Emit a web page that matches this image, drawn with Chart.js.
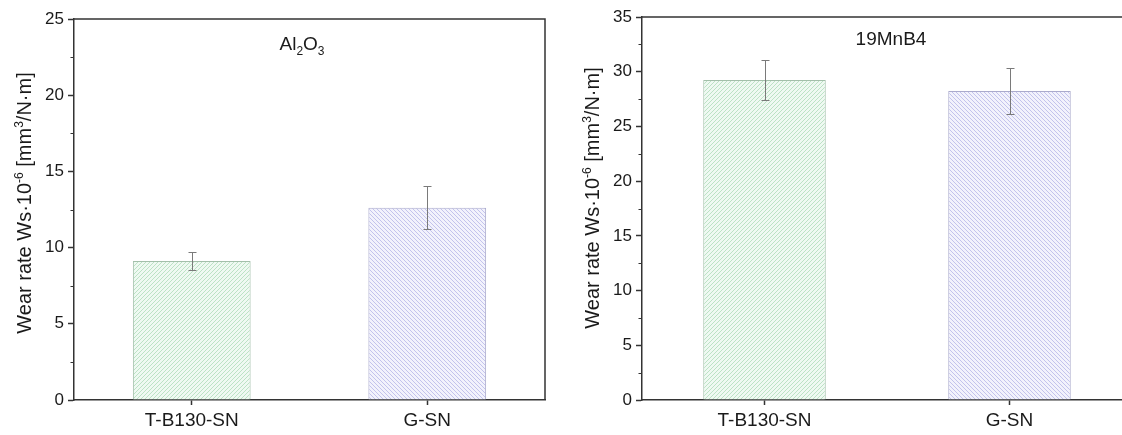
<!DOCTYPE html>
<html><head><meta charset="utf-8">
<script src="https://cdn.jsdelivr.net/npm/chart.js@4.4.1/dist/chart.umd.min.js"></script>
<style>
html,body{margin:0;padding:0;background:#fff;width:1122px;height:435px;overflow:hidden;position:relative}
#c1{position:absolute;left:0;top:0}
#c2{position:absolute;left:560px;top:0}
</style></head><body>
<canvas id="c1" width="560" height="435"></canvas>
<canvas id="c2" width="590" height="435"></canvas>
<script>
// ---- data ----
const categories = ['T-B130-SN', 'G-SN'];
const al2o3Values = [9.12, 12.62];
const al2o3Errors = [0.58, 1.40];
const mnb4Values = [29.25, 28.24];
const mnb4Errors = [1.84, 2.14];
const al2o3TickValues = [0, 5, 10, 15, 20, 25];
const mnb4TickValues = [0, 5, 10, 15, 20, 25, 30, 35];
const al2o3Title = [{t:'Al'}, {t:'2', sub:true}, {t:'O'}, {t:'3', sub:true}];
const mnb4Title = [{t:'19MnB4'}];
const yTitle = [{t:'Wear rate Ws·10'}, {t:'-6', sup:true}, {t:' [mm'}, {t:'3', sup:true}, {t:'/N·m]'}];

const FONT = '"Liberation Sans", Arial, Helvetica, sans-serif';
const AXIS = '#333333';

function hatchTile(bg, color, dir) {
  const s = 4, c = document.createElement('canvas');
  c.width = s; c.height = s;
  const g = c.getContext('2d');
  g.fillStyle = bg; g.fillRect(0, 0, s, s);
  g.fillStyle = color;
  for (let y = 0; y < s; y++) {
    for (let x = 0; x < s; x++) {
      const on = dir > 0 ? ((x + y) % s === s - 1) : (((x - y) % s + s) % s === 0);
      if (on) g.fillRect(x, y, 1, 1);
    }
  }
  return c;
}
const greenTile = hatchTile('#eff9f2', '#bce2c5', 1);
const blueTile = hatchTile('#f2f2fc', '#c3c3ec', -1);

const errorBars = {
  id: 'errorBars',
  afterDatasetsDraw(chart, args, opts) {
    const meta = chart.getDatasetMeta(0), y = chart.scales.y, ctx = chart.ctx;
    const vals = chart.data.datasets[0].data, errs = opts.errors;
    ctx.save();
    ctx.strokeStyle = opts.color; ctx.lineWidth = 1;
    meta.data.forEach((bar, i) => {
      const x = Math.round(bar.x) + 0.5;
      const t = Math.round(y.getPixelForValue(vals[i] + errs[i])) + 0.5;
      const b = Math.round(y.getPixelForValue(vals[i] - errs[i])) + 0.5;
      ctx.beginPath();
      ctx.moveTo(x, t); ctx.lineTo(x, b);
      ctx.moveTo(x - opts.cap, t); ctx.lineTo(x + opts.cap, t);
      ctx.moveTo(x - opts.cap, b); ctx.lineTo(x + opts.cap, b);
      ctx.stroke();
    });
    ctx.restore();
  }
};

const frame = {
  id: 'frame',
  afterDraw(chart, args, opts) {
    const a = chart.chartArea, ctx = chart.ctx, y = chart.scales.y;
    ctx.save();
    ctx.strokeStyle = AXIS; ctx.lineWidth = 1.5;
    ctx.beginPath();
    ctx.moveTo(a.left, a.top); ctx.lineTo(a.right, a.top); ctx.lineTo(a.right, a.bottom);
    ctx.stroke();
    // minor ticks
    ctx.lineWidth = 1;
    ctx.beginPath();
    for (let v = opts.minorStep; v < y.max; v += opts.minorStep * 2) {
      const p = Math.round(y.getPixelForValue(v)) + 0.5;
      ctx.moveTo(a.left - 3.5, p); ctx.lineTo(a.left, p);
    }
    ctx.stroke();
    ctx.restore();
  }
};

function drawRich(ctx, segs, size, x, y, rot) {
  ctx.save();
  ctx.translate(x, y);
  if (rot) ctx.rotate(rot);
  const small = Math.round(size * 0.62);
  let total = 0;
  segs.forEach(s => {
    ctx.font = ((s.sup || s.sub) ? small : size) + 'px ' + FONT;
    s.w = ctx.measureText(s.t).width; total += s.w;
  });
  let cx = -total / 2;
  const base = size * 0.36;
  ctx.fillStyle = '#1a1a1a';
  ctx.textBaseline = 'alphabetic';
  ctx.textAlign = 'left';
  segs.forEach(s => {
    ctx.font = ((s.sup || s.sub) ? small : size) + 'px ' + FONT;
    let dy = base;
    if (s.sup) dy = base - size * 0.42;
    if (s.sub) dy = base + size * 0.22;
    ctx.fillText(s.t, cx, dy);
    cx += s.w;
  });
  ctx.restore();
}

const richText = {
  id: 'richText',
  afterDraw(chart, args, opts) {
    opts.items.forEach(it => drawRich(chart.ctx, it.segs, it.size, it.x, it.y, it.rot || 0));
  }
};

function makeChart(id, values, errors, tickValues, title, opt) {
  return new Chart(document.getElementById(id), {
    type: 'bar',
    data: {
      labels: categories,
      datasets: [{
        data: values,
        backgroundColor: (c) => c.chart.ctx.createPattern(c.dataIndex === 0 ? greenTile : blueTile, 'repeat'),
        borderColor: (c) => c.dataIndex === 0 ? '#a3bfaa' : '#aaaacc',
        borderWidth: 1,
        borderSkipped: 'bottom',
        categoryPercentage: 0.5,
        barPercentage: 1.0
      }]
    },
    options: {
      responsive: false,
      animation: false,
      layout: { padding: { top: opt.top, right: opt.right, left: 0, bottom: 0 } },
      plugins: {
        legend: { display: false },
        tooltip: { enabled: false },
        errorBars: { errors: errors, color: '#7a7a7a', cap: 4 },
        frame: { minorStep: 2.5 },
        richText: { items: [
          { segs: title, size: 19, x: opt.titleX, y: opt.titleY },
          { segs: yTitle, size: 20, x: opt.yTitleX, y: opt.yTitleY, rot: -Math.PI / 2 }
        ] }
      },
      scales: {
        x: {
          type: 'category',
          grid: { offset: false, drawOnChartArea: false, tickLength: 5, color: AXIS, tickWidth: 1.5 },
          border: { display: true, color: AXIS, width: 1.5 },
          ticks: { color: '#1a1a1a', font: { family: FONT, size: 19 }, padding: 4, maxRotation: 0 },
          afterFit: (s) => { s.height = 35; }
        },
        y: {
          min: 0, max: tickValues[tickValues.length - 1],
          afterBuildTicks: (s) => { s.ticks = tickValues.map(v => ({ value: v })); },
          grid: { drawOnChartArea: false, tickLength: 6, color: AXIS, tickWidth: 1.5 },
          border: { display: true, color: AXIS, width: 1.5 },
          ticks: { color: '#1a1a1a', font: { family: FONT, size: 17 }, padding: 4 },
          afterFit: (s) => { s.width = opt.yWidth; }
        }
      }
    },
    plugins: [errorBars, frame, richText]
  });
}

makeChart('c1', al2o3Values, al2o3Errors, al2o3TickValues, al2o3Title,
  { top: 19, right: 15, yWidth: 74, titleX: 302, titleY: 43.5, yTitleX: 24, yTitleY: 203 });
makeChart('c2', mnb4Values, mnb4Errors, mnb4TickValues, mnb4Title,
  { top: 17, right: 18, yWidth: 82, titleX: 331, titleY: 38.5, yTitleX: 32, yTitleY: 198 });
</script>
</body></html>
